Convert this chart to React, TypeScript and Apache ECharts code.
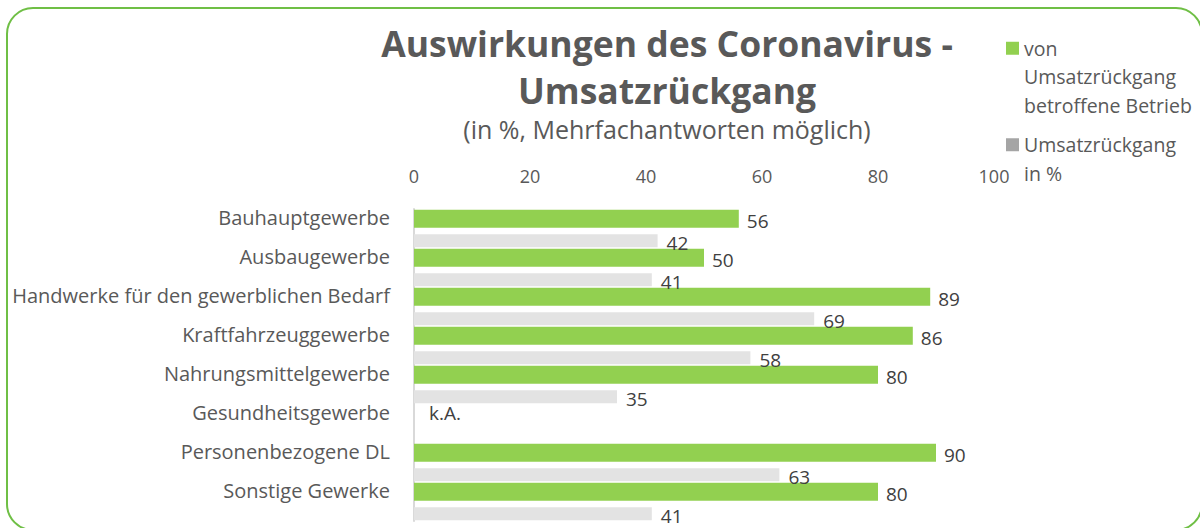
import React, { useEffect, useRef } from "react";
import * as echarts from "echarts";

const categories = [
  "Bauhauptgewerbe",
  "Ausbaugewerbe",
  "Handwerke für den gewerblichen Bedarf",
  "Kraftfahrzeuggewerbe",
  "Nahrungsmittelgewerbe",
  "Gesundheitsgewerbe",
  "Personenbezogene DL",
  "Sonstige Gewerke",
];
const betroffeneBetriebe: (number | null)[] = [56, 50, 89, 86, 80, null, 90, 80];
const umsatzrueckgang: (number | null)[] = [42, 41, 69, 58, 35, null, 63, 41];
const xTicks = { min: 0, max: 100, interval: 20 };
const seriesNames = ["von Umsatzrückgang betroffene Betrieb", "Umsatzrückgang in %"];
// leading blank lines keep the first text line level with the legend square
const legendTexts = ["\n\nvon\nUmsatzrückgang\nbetroffene Betrieb", "\nUmsatzrückgang\nin %"];
const missingLabel = "k.A.";

const FONT = "'Open Sans', 'Noto Sans', sans-serif";
const TEXT = "#595959";

export default function App() {
  const ref = useRef<HTMLDivElement>(null);
  useEffect(() => {
    if (!ref.current) return;
    const chart = echarts.init(ref.current, undefined, { renderer: "svg" });
    const greenData = betroffeneBetriebe.map((v) =>
      v === null
        ? { value: 0, label: { show: true, formatter: missingLabel, distance: 15, offset: [0, -1] } }
        : v
    );
    const option: any = {
      animation: false,
      textStyle: { fontFamily: FONT },
      graphic: [
        {
          type: "rect",
          shape: { x: 7, y: 8, width: 1195, height: 522, r: 26 },
          style: { fill: "none", stroke: "#6fbf45", lineWidth: 2 },
          silent: true,
        },
      ],
      title: {
        text: "Auswirkungen des Coronavirus -\nUmsatzrückgang",
        subtext: "(in %, Mehrfachantworten möglich)",
        left: 662,
        top: 14,
        textAlign: "center",
        itemGap: 0,
        textStyle: {
          fontFamily: FONT,
          fontWeight: "bold",
          fontSize: 35.5,
          lineHeight: 47,
          color: TEXT,
        },
        subtextStyle: { fontFamily: FONT, fontSize: 25, color: TEXT, lineHeight: 32 },
      },
      legend: [
        {
          data: [{ name: seriesNames[0] }],
          left: 1001,
          top: -28,
          itemWidth: 13,
          itemHeight: 13,
          icon: "rect",
          formatter: () => legendTexts[0],
          textStyle: { fontFamily: FONT, fontSize: 19.5, color: TEXT, lineHeight: 28.5 },
        },
        {
          data: [{ name: seriesNames[1], itemStyle: { color: "#a5a5a5" } }],
          left: 1001,
          top: 97,
          itemWidth: 13,
          itemHeight: 13,
          icon: "rect",
          formatter: () => legendTexts[1],
          textStyle: { fontFamily: FONT, fontSize: 19.5, color: TEXT, lineHeight: 28.5 },
        },
      ],
      grid: { left: 414, top: 209, width: 580, height: 312, containLabel: false },
      xAxis: {
        type: "value",
        position: "top",
        min: xTicks.min,
        max: xTicks.max,
        interval: xTicks.interval,
        axisLine: { show: false },
        axisTick: { show: false },
        splitLine: { show: false },
        axisLabel: { color: TEXT, fontSize: 18, fontFamily: FONT, margin: 24 },
      },
      yAxis: {
        type: "category",
        inverse: true,
        data: categories,
        axisLine: { show: true, lineStyle: { color: "#d9d9d9", width: 2 } },
        axisTick: { show: false },
        axisLabel: {
          color: TEXT,
          fontSize: 20,
          fontFamily: FONT,
          margin: 24,
          lineHeight: 22,
          interval: 0,
          showMinLabel: true,
          showMaxLabel: true,
          hideOverlap: false,
          formatter: (v: string) => v + "\n",
        },
      },
      series: [
        {
          name: seriesNames[0],
          type: "bar",
          data: greenData,
          barWidth: 18,
          barGap: "36%",
          itemStyle: { color: "#92d050" },
          label: {
            show: true,
            position: "right",
            distance: 8,
            color: "#404040",
            fontSize: 19,
            fontFamily: FONT,
            offset: [0, 2],
          },
        },
        {
          name: seriesNames[1],
          type: "bar",
          data: umsatzrueckgang,
          barWidth: 13,
          itemStyle: { color: "#e3e3e3" },
          label: {
            show: true,
            position: "right",
            distance: 9,
            color: "#404040",
            fontSize: 19,
            fontFamily: FONT,
            offset: [0, 2],
          },
        },
      ],
    };
    chart.setOption(option);
    return () => chart.dispose();
  }, []);
  return (
    <div
      ref={ref}
      style={{ position: "fixed", left: 0, top: 0, width: 1200, height: 528, background: "#fff" }}
    />
  );
}
